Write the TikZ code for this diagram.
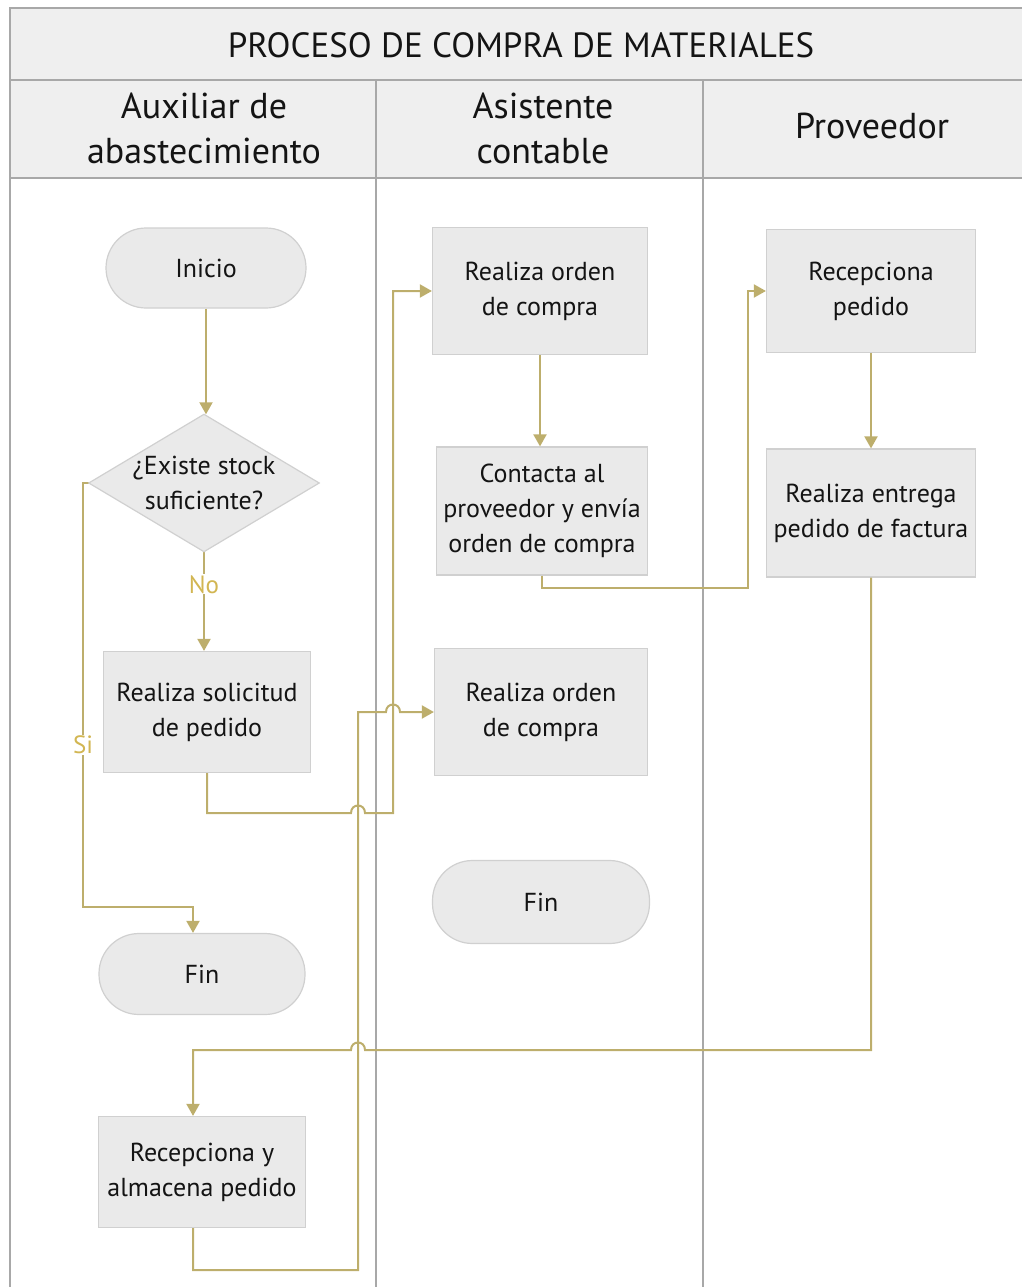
\documentclass[tikz,border=0pt]{standalone}
\usepackage{fontspec}
\setmainfont{PT Sans}
\usetikzlibrary{arrows.meta,calc}
\definecolor{flowc}{HTML}{BDAE6C}
\definecolor{lblc}{HTML}{D2B652}
\definecolor{boxfill}{HTML}{EAEAEA}
\definecolor{boxline}{HTML}{D0D0D0}
\definecolor{lanec}{HTML}{A8A8A8}
\definecolor{headfill}{HTML}{EFEFEF}
\definecolor{txt}{HTML}{141414}
\begin{document}
\begin{tikzpicture}[x=1pt,y=-1pt,
  proc/.style={draw=boxline, line width=1.2pt, fill=boxfill, align=center,
    font=\fontsize{26}{35}\selectfont, text=txt, inner sep=0pt},
  term/.style={proc, rounded corners=40pt},
  flow/.style={draw=flowc, line width=2pt, -{Triangle[width=13pt,length=12pt]}},
  lbl/.style={text=lblc, font=\fontsize{25}{28}\selectfont, fill=white, inner sep=1pt},
  head/.style={align=center, text=txt, font=\fontsize{36}{45}\selectfont},
  lane/.style={draw=lanec, line width=1.5pt}]
\useasboundingbox (0,0) rectangle (1022,1287);
\clip (0,0) rectangle (1022,1287);
% frame
\fill[headfill] (10,8) rectangle (1040,178);
\draw[lane] (10,1300) -- (10,8) -- (1040,8);
\draw[lane] (10,80) -- (1040,80);
\draw[lane] (10,178) -- (1040,178);
\draw[lane] (376,80) -- (376,1300);
\draw[lane] (703,80) -- (703,1300);
\node[head, font=\fontsize{35}{45}\selectfont] (title) at (521,45) {PROCESO DE COMPRA DE MATERIALES};
\node[head] (h1) at (204,128) {Auxiliar de\\abastecimiento};
\node[head] (h2) at (543,128) {Asistente\\contable};
\node[head] (h3) at (872,126) {Proveedor};
% nodes
\node[term, minimum width=200pt, minimum height=80pt] (ini) at (206,268) {Inicio};
\node[inner sep=0pt, minimum width=230pt, minimum height=137pt] (dia) at (204,483) {};
\node[proc, minimum width=207pt, minimum height=121pt] (sol) at (207,712) {Realiza solicitud\\de pedido};
\node[term, minimum width=206pt, minimum height=81pt] (fin1) at (202,974) {Fin};
\node[proc, minimum width=207pt, minimum height=111pt] (alm) at (202,1172) {Recepciona y\\almacena pedido};
\node[proc, minimum width=215pt, minimum height=127pt] (o1) at (540,291) {Realiza orden\\de compra};
\node[proc, minimum width=211pt, minimum height=128pt] (con) at (542,511) {Contacta al\\proveedor y envía\\orden de compra};
\node[proc, minimum width=213pt, minimum height=127pt] (o2) at (541,712) {Realiza orden\\de compra};
\node[term, minimum width=217pt, minimum height=83pt] (fin2) at (541,902) {Fin};
\node[proc, minimum width=209pt, minimum height=123pt] (rp) at (871,291) {Recepciona\\pedido};
\node[proc, minimum width=209pt, minimum height=128pt] (re) at (871,513) {Realiza entrega\\pedido de factura};
% connectors
\draw[flow] (ini.south) -- (ini.south |- dia.north);
\draw[flow] (dia.south) -- (dia.south |- sol.north) node[lbl, pos=0.33] (no) {No};
\draw[flow] (dia.west) -| (83,907) -| ([xshift=-9pt]fin1.north);
\node[lbl] (si) at (83,745) {Si};
\draw[flow] (sol.south) |- (351,813) .. controls (351,803) and (365,803) .. (365,813) -- (393,813) |- (o1.west);
\draw[flow] (o1.south) -- (o1.south |- con.north);
\draw[flow] (con.south) |- (748,588) |- (rp.west);
\draw[flow] (rp.south) -- (rp.south |- re.north);
\draw[flow] (re.south) |- (365,1050) .. controls (365,1040) and (351,1040) .. (351,1050) -| ([xshift=-9pt]alm.north);
\draw[flow] ([xshift=-9pt]alm.south) |- (358,1270) -- (358,712) -- (386,712) .. controls (386,702) and (400,702) .. (400,712) -- (o2.west);
% diamond
\draw[draw=boxline, line width=1.2pt, fill=boxfill] (dia.north) -- (dia.east) -- (dia.south) -- (dia.west) -- cycle;
\node[align=center, text=txt, font=\fontsize{26}{35}\selectfont, inner sep=0pt] (diatext) at (dia.center) {¿Existe stock\\suficiente?};
\end{tikzpicture}
\end{document}
